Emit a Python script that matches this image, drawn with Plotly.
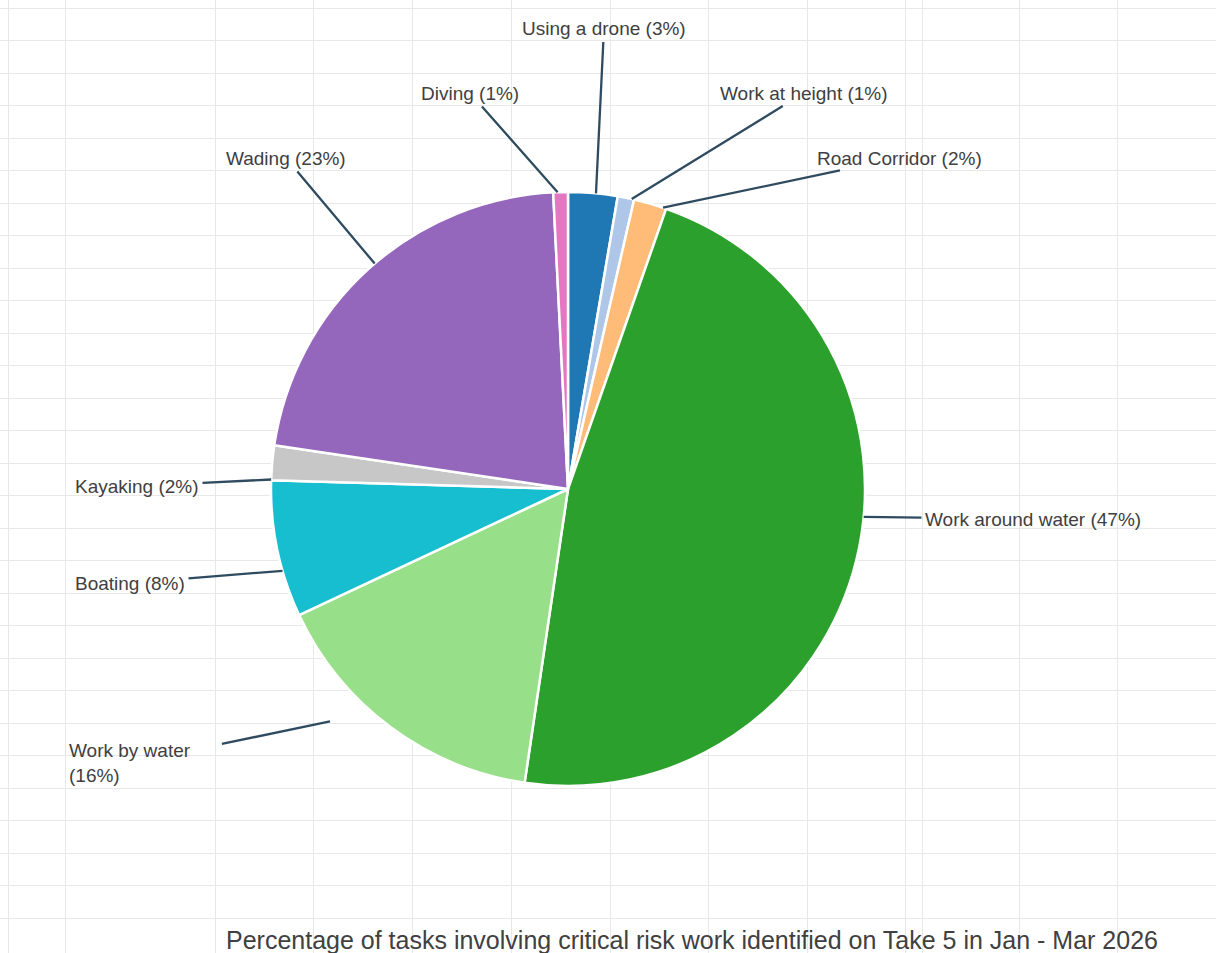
import math
import plotly.graph_objects as go

# ---------------- data ----------------
categories = ["Using a drone", "Work at height", "Road Corridor", "Work around water",
              "Work by water", "Boating", "Kayaking", "Wading", "Diving"]
values = [2.7, 0.9, 1.8, 47.3, 15.8, 7.5, 1.9, 22.0, 0.8]
pct_labels = [3, 1, 2, 47, 16, 8, 2, 23, 1]
title_text = "Percentage of tasks involving critical risk work identified on Take 5 in Jan - Mar 2026"

# ---------------- style / layout ----------------
W, H = 1216, 953
colors = ["#1f77b4", "#aec7e8", "#ffbb78", "#2ca02c", "#98df8a",
          "#17becf", "#c7c7c7", "#9467bd", "#e377c2"]
CX, CY, R = 568, 489, 297          # pie centre and radius in pixels
label_pos = [(604, 28), (804, 93), (899, 158), (1033, 519), (130, 763),
             (130, 583), (137, 486), (286, 158), (470, 93)]
label_break = [False, False, False, False, True, False, False, False, False]
anchor_frac = [0.56, 0.85, 0.9, 0.45, 0.66, 0.34, 0.02, 0.52, 0.3]
anchor_rad = [1.0, 1.0, 1.0, 1.0, 1.12, 1.0, 1.0, 1.0, 1.0]
start_gap = [2, 2, 2, 2, 30, 2, 2, 2, 2]
line_color = "#2f4b60"
text_color = "#404040"
font_family = "Liberation Sans, Arial, sans-serif"
grid_x = [8, 65, 215, 313, 412, 511, 610, 708, 807, 905, 922, 1019, 1117]
grid_y = [8 + 32.5 * i for i in range(29)]

fig = go.Figure()

# hidden pixel-space axes (spreadsheet grid background + annotation reference)
fig.add_trace(go.Scatter(x=[], y=[], xaxis="x", yaxis="y", showlegend=False, hoverinfo="skip"))

fig.add_trace(go.Pie(
    labels=categories,
    values=values,
    sort=False,
    direction="clockwise",
    rotation=0,
    textinfo="none",
    hovertemplate="%{label}: %{percent}<extra></extra>",
    marker=dict(colors=colors, line=dict(color="white", width=2.5)),
    domain=dict(x=[(CX - R) / W, (CX + R) / W], y=[1 - (CY + R) / H, 1 - (CY - R) / H]),
    showlegend=False,
))

total = sum(values)
annotations = []
cum = 0.0
for i, (cat, v, p) in enumerate(zip(categories, values, pct_labels)):
    ang = 2 * math.pi * (cum + v * anchor_frac[i]) / total
    cum += v
    tx = CX + R * anchor_rad[i] * math.sin(ang)
    ty = CY - R * anchor_rad[i] * math.cos(ang)
    sep = "<br>" if label_break[i] else " "
    annotations.append(dict(
        x=tx, y=ty, xref="x", yref="y",
        ax=label_pos[i][0], ay=label_pos[i][1], axref="x", ayref="y",
        text=f"{cat}{sep}({p}%)", align="left",
        showarrow=True, arrowhead=0, arrowwidth=2.3, arrowcolor=line_color,
        startstandoff=start_gap[i],
        font=dict(family=font_family, size=19, color=text_color),
    ))

annotations.append(dict(
    x=692, y=940, xref="x", yref="y", text=title_text, showarrow=False,
    font=dict(family=font_family, size=25, color=text_color),
))

fig.update_layout(
    width=W, height=H,
    margin=dict(l=0, r=0, t=0, b=0),
    paper_bgcolor="white", plot_bgcolor="white",
    xaxis=dict(range=[0, W], domain=[0, 1], tickvals=grid_x, showticklabels=False,
               showgrid=True, gridcolor="#e8e8e8", gridwidth=1, zeroline=False,
               fixedrange=True, ticks=""),
    yaxis=dict(range=[H, 0], domain=[0, 1], tickvals=grid_y, showticklabels=False,
               showgrid=True, gridcolor="#e8e8e8", gridwidth=1, zeroline=False,
               fixedrange=True, ticks=""),
    annotations=annotations,
    showlegend=False,
)

fig.write_html("out.html")
